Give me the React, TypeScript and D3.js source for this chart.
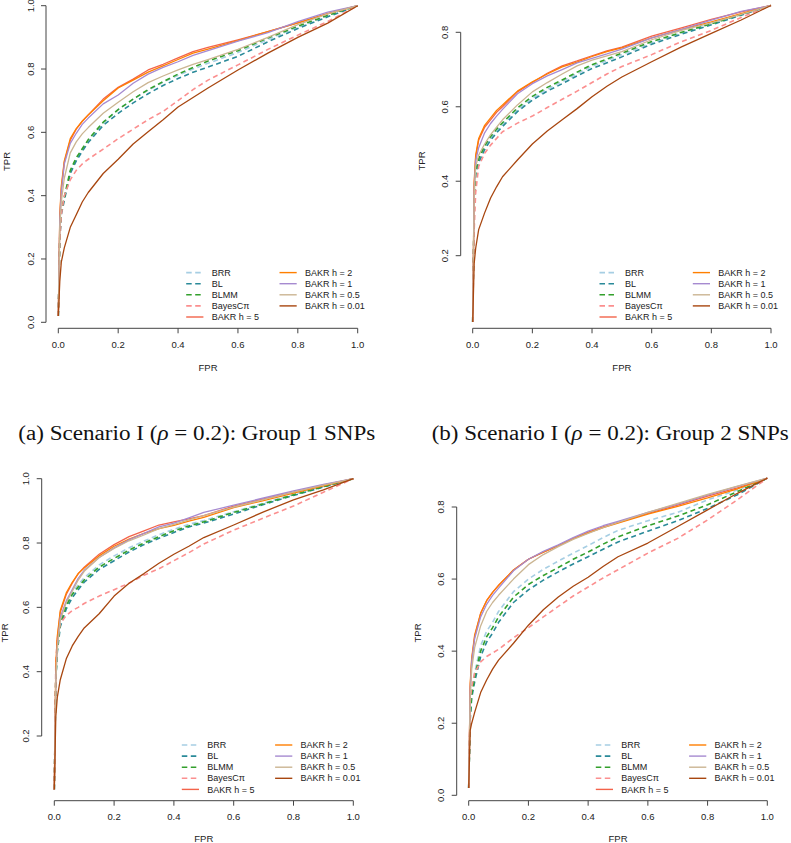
import React from "react";
import * as d3 from "d3";

// ---------- data ----------
const FPR = [0, 0.005, 0.01, 0.02, 0.04, 0.06, 0.08, 0.1, 0.15, 0.2, 0.25, 0.3, 0.35, 0.4, 0.45, 0.5, 0.6, 0.7, 0.8, 0.9, 1];

const SERIES = ["BRR", "BL", "BLMM", "BayesCπ", "BAKR h = 5", "BAKR h = 2", "BAKR h = 1", "BAKR h = 0.5", "BAKR h = 0.01"];
const COLORS = ["#a6cee3", "#2a8a99", "#33a02c", "#fb8f8f", "#f3634a", "#ff7f00", "#a68ad0", "#cbb592", "#a8460f"];
const DASHED = [true, true, true, true, false, false, false, false, false];

const TITLES = ["(a) Scenario I (", "(b) Scenario I ("];
const TITLE_TAIL = ["): Group 1 SNPs", "): Group 2 SNPs"];

const X_TICKS = [0, 0.2, 0.4, 0.6, 0.8, 1.0];
const Y_TICKS_A = [0, 0.2, 0.4, 0.6, 0.8, 1.0];
const Y_TICKS_B = [0.2, 0.4, 0.6, 0.8];
const Y_TICKS_C = [0.2, 0.4, 0.6, 0.8, 1.0];
const Y_TICKS_D = [0, 0.2, 0.4, 0.6, 0.8];

// panel top-left
const a_brr = [.02, .27, .35, .39, .475, .515, .545, .574, .63, .672, .705, .733, .758, .78, .8, .818, .852, .893, .932, .968, 1];
const a_bl = [.02, .26, .34, .385, .47, .51, .54, .568, .622, .66, .693, .722, .748, .77, .79, .806, .84, .886, .928, .965, 1];
const a_blmm = [.02, .27, .35, .395, .48, .52, .548, .577, .632, .672, .705, .735, .76, .784, .805, .825, .858, .898, .935, .97, 1];
const a_bcpi = [.02, .26, .34, .40, .45, .48, .50, .515, .547, .58, .61, .64, .666, .70, .735, .765, .813, .862, .907, .95, 1];
const a_h5 = [.02, .33, .42, .505, .575, .61, .635, .655, .705, .742, .768, .797, .815, .835, .855, .868, .892, .918, .946, .975, 1];
const a_h2 = [.02, .34, .43, .51, .58, .612, .635, .655, .70, .74, .765, .79, .81, .83, .85, .863, .89, .918, .946, .975, 1];
const a_h1 = [.02, .32, .41, .50, .565, .597, .625, .645, .69, .718, .755, .784, .805, .823, .843, .858, .888, .915, .95, .98, 1];
const a_h05 = [.02, .30, .38, .455, .535, .57, .595, .615, .66, .695, .728, .757, .778, .797, .815, .83, .862, .9, .94, .974, 1];
const a_h001 = [.02, .13, .19, .235, .30, .34, .38, .41, .47, .515, .563, .602, .64, .68, .71, .74, .797, .85, .9, .945, 1];

// panel top-right
const b_brr = [.022, .34, .425, .455, .49, .515, .535, .552, .592, .623, .647, .668, .689, .709, .724, .74, .772, .798, .822, .847, .872];
const b_bl = [.022, .33, .42, .45, .485, .51, .53, .547, .587, .618, .642, .662, .683, .703, .718, .734, .768, .795, .82, .846, .872];
const b_blmm = [.022, .34, .43, .46, .495, .52, .54, .557, .597, .628, .652, .672, .693, .713, .728, .744, .775, .8, .823, .848, .872];
const b_bcpi = [.022, .27, .37, .44, .475, .497, .515, .533, .556, .575, .598, .62, .642, .665, .688, .708, .74, .775, .805, .84, .872];
const b_h5 = [.022, .39, .465, .51, .545, .565, .585, .60, .64, .665, .69, .71, .723, .737, .75, .76, .79, .812, .835, .855, .872];
const b_h2 = [.022, .40, .47, .515, .55, .57, .59, .605, .642, .667, .688, .707, .72, .735, .748, .758, .785, .808, .828, .85, .872];
const b_h1 = [.022, .38, .455, .49, .53, .555, .575, .593, .635, .662, .683, .70, .718, .73, .742, .755, .785, .808, .833, .856, .872];
const b_h05 = [.022, .36, .44, .47, .50, .525, .545, .565, .605, .64, .665, .688, .71, .725, .737, .748, .78, .805, .825, .848, .872];
const b_h001 = [.022, .18, .22, .27, .315, .355, .385, .412, .457, .50, .535, .565, .595, .627, .655, .68, .721, .761, .797, .833, .872];

// panel bottom-left
const c_brr = [.034, .38, .47, .555, .61, .645, .67, .692, .732, .76, .785, .806, .826, .843, .858, .87, .897, .924, .951, .976, 1];
const c_bl = [.034, .37, .46, .54, .595, .63, .655, .678, .718, .745, .772, .795, .815, .833, .85, .862, .89, .92, .948, .974, 1];
const c_blmm = [.034, .38, .47, .55, .605, .64, .663, .685, .725, .752, .778, .80, .82, .838, .853, .866, .895, .922, .95, .975, 1];
const c_bcpi = [.034, .43, .50, .55, .575, .59, .60, .612, .635, .655, .675, .70, .72, .745, .77, .797, .84, .878, .915, .958, 1];
const c_h5 = [.034, .40, .50, .585, .64, .675, .705, .725, .765, .795, .82, .838, .856, .866, .875, .885, .915, .937, .958, .98, 1];
const c_h2 = [.034, .42, .51, .59, .645, .678, .705, .722, .76, .79, .812, .83, .845, .855, .868, .88, .91, .932, .955, .978, 1];
const c_h1 = [.034, .38, .48, .57, .62, .655, .69, .715, .755, .785, .81, .83, .85, .862, .878, .895, .918, .94, .962, .982, 1];
const c_h05 = [.034, .37, .47, .56, .615, .65, .685, .712, .755, .783, .807, .825, .845, .858, .872, .885, .912, .935, .958, .98, 1];
const c_h001 = [.034, .26, .32, .375, .44, .48, .51, .536, .58, .635, .675, .705, .737, .765, .79, .817, .856, .897, .934, .965, 1];

// panel bottom-right
const d_brr = [.02, .23, .29, .34, .415, .455, .48, .51, .565, .60, .627, .65, .672, .693, .715, .735, .762, .785, .82, .847, .88];
const d_bl = [.02, .21, .27, .315, .385, .425, .45, .48, .535, .57, .597, .62, .642, .662, .683, .703, .733, .762, .796, .834, .88];
const d_blmm = [.02, .22, .28, .33, .40, .44, .465, .495, .55, .585, .61, .632, .655, .675, .697, .717, .748, .775, .806, .843, .88];
const d_bcpi = [.02, .26, .30, .34, .37, .385, .395, .405, .437, .465, .495, .524, .553, .578, .603, .626, .672, .713, .764, .82, .88];
const d_h5 = [.02, .30, .375, .44, .505, .54, .563, .583, .625, .655, .675, .693, .713, .73, .745, .757, .782, .805, .83, .853, .88];
const d_h2 = [.02, .31, .38, .445, .505, .54, .563, .582, .625, .655, .675, .693, .712, .728, .743, .755, .78, .802, .825, .85, .88];
const d_h1 = [.02, .29, .37, .435, .495, .53, .555, .575, .623, .655, .677, .695, .715, .733, .748, .76, .785, .808, .833, .857, .88];
const d_h05 = [.02, .27, .35, .41, .47, .51, .535, .555, .60, .64, .668, .69, .71, .727, .743, .757, .785, .81, .835, .858, .88];
const d_h001 = [.02, .18, .20, .23, .285, .32, .35, .375, .422, .472, .515, .55, .58, .605, .635, .662, .70, .746, .792, .838, .88];

// ---------- layout ----------
const PANELS = [
  { data: [a_brr, a_bl, a_blmm, a_bcpi, a_h5, a_h2, a_h1, a_h05, a_h001], yTicks: Y_TICKS_A,
    yDom: [0, 1], yRng: [322.3, 5.7], xRng: [58.3, 357.7], axisY: 328.3, axisX: 46, tprX: 7, tprY: 161.5, fprDy: 39 },
  { data: [b_brr, b_bl, b_blmm, b_bcpi, b_h5, b_h2, b_h1, b_h05, b_h001], yTicks: Y_TICKS_B,
    yDom: [0.2, 0.8], yRng: [255.7, 32.3], xRng: [472.7, 771], axisY: 328.3, axisX: 460.7, tprX: 421.7, tprY: 161, fprDy: 39 },
  { data: [c_brr, c_bl, c_blmm, c_bcpi, c_h5, c_h2, c_h1, c_h05, c_h001], yTicks: Y_TICKS_C,
    yDom: [0.2, 1.0], yRng: [736, 478.7], xRng: [54.3, 353.3], axisY: 800.7, axisX: 41.7, tprX: 5, tprY: 633, fprDy: 37.5 },
  { data: [d_brr, d_bl, d_blmm, d_bcpi, d_h5, d_h2, d_h1, d_h05, d_h001], yTicks: Y_TICKS_D,
    yDom: [0, 0.8], yRng: [795.3, 507], xRng: [468.7, 767.3], axisY: 800.7, axisX: 456.7, tprX: 417.7, tprY: 633, fprDy: 37.5 },
];

const fmt = d3.format(".1f");
const SANS = "'Liberation Sans', Arial, Helvetica, sans-serif";
const SERIF = "'Liberation Serif', 'Times New Roman', serif";
const TXT = "#222";
const AX = "#444";

function Panel({ p }: { p: any }) {
  const x = d3.scaleLinear().domain([0, 1]).range(p.xRng);
  const y = d3.scaleLinear().domain(p.yDom).range(p.yRng);
  const line = d3.line<number>().x((_, i) => x(FPR[i])).y((v) => y(v));
  const xMid = (p.xRng[0] + p.xRng[1]) / 2;
  const yt = p.yTicks as number[];
  const xr = p.xRng[1];
  const col1 = xr - 146;
  const col2 = xr - 52.7;
  return (
    <g>
      {p.data.map((s: number[], i: number) => (
        <path key={i} d={line(s) || ""} fill="none" stroke={COLORS[i]}
          strokeWidth={DASHED[i] ? 1.6 : 1.3} strokeDasharray={DASHED[i] ? "5,3.5" : undefined}
          strokeLinejoin="round" />
      ))}
      {/* x axis */}
      <line x1={x(0)} x2={x(1)} y1={p.axisY} y2={p.axisY} stroke={AX} strokeWidth={1} />
      {X_TICKS.map((t) => (
        <g key={t}>
          <line x1={x(t)} x2={x(t)} y1={p.axisY} y2={p.axisY + 5} stroke={AX} />
          <text x={x(t)} y={p.axisY + 16} dy="0.35em" textAnchor="middle" fontSize={9.5} fontFamily={SANS} fill={TXT}>{fmt(t)}</text>
        </g>
      ))}
      <text x={xMid} y={p.axisY + p.fprDy} dy="0.35em" textAnchor="middle" fontSize={9.5} fontFamily={SANS} fill={TXT}>FPR</text>
      {/* y axis */}
      <line x1={p.axisX} x2={p.axisX} y1={y(yt[0])} y2={y(yt[yt.length - 1])} stroke={AX} strokeWidth={1} />
      {yt.map((t) => (
        <g key={t}>
          <line x1={p.axisX - 5} x2={p.axisX} y1={y(t)} y2={y(t)} stroke={AX} />
          <text transform={`translate(${p.axisX - 15.7},${y(t)}) rotate(-90)`} dy="0.35em" textAnchor="middle"
            fontSize={9.5} fontFamily={SANS} fill={TXT}>{fmt(t)}</text>
        </g>
      ))}
      <text transform={`translate(${p.tprX},${p.tprY}) rotate(-90)`} dy="0.35em" textAnchor="middle"
        fontSize={9.5} fontFamily={SANS} fill={TXT}>TPR</text>
      {/* legend */}
      {SERIES.map((name, i) => {
        const c = i < 5 ? 0 : 1;
        const r = i < 5 ? i : i - 5;
        const tx = c === 0 ? col1 : col2;
        const ly = p.axisY - 55.7 + r * 11.1;
        return (
          <g key={name}>
            <line x1={tx - 25.5} x2={tx - 8.3} y1={ly} y2={ly} stroke={COLORS[i]}
              strokeWidth={DASHED[i] ? 1.6 : 1.4} strokeDasharray={DASHED[i] ? "5.5,3.5" : undefined} />
            <text x={tx} y={ly} dy="0.35em" fontSize={9} fontFamily={SANS} fill={TXT}>{name}</text>
          </g>
        );
      })}
    </g>
  );
}

export default function App() {
  return (
    <svg width={791} height={843} viewBox="0 0 791 843"
      style={{ position: "absolute", left: 0, top: 0, background: "#fff" }}>
      <rect x={0} y={0} width={791} height={843} fill="#fff" />
      {PANELS.map((p, i) => <Panel key={i} p={p} />)}
      {[18.3, 431.7].map((tx, i) => (
        <text key={i} x={tx} y={439.5} fontSize={20} fontFamily={SERIF} fill="#111"
          textLength={357} lengthAdjust="spacingAndGlyphs">
          {TITLES[i]}<tspan fontStyle="italic">ρ</tspan>{" = 0.2"}{TITLE_TAIL[i]}
        </text>
      ))}
    </svg>
  );
}
